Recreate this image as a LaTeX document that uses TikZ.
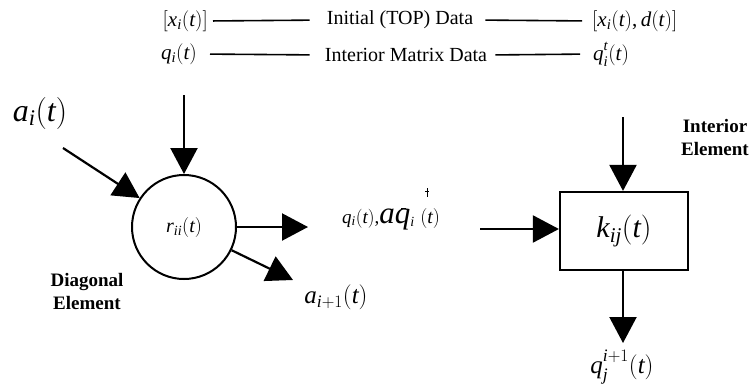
\RequirePackage{fix-cm}
\documentclass[tikz,border=0pt]{standalone}
\usepackage{fontspec}
\setmainfont{Liberation Serif}
\DeclareSymbolFont{tletters}{TU}{\rmdefault}{m}{it}
\DeclareSymbolFont{tupright}{TU}{\rmdefault}{m}{n}
\DeclareMathSymbol{a}{\mathalpha}{tletters}{`a}
\DeclareMathSymbol{d}{\mathalpha}{tletters}{`d}
\DeclareMathSymbol{i}{\mathalpha}{tletters}{`i}
\DeclareMathSymbol{j}{\mathalpha}{tletters}{`j}
\DeclareMathSymbol{k}{\mathalpha}{tletters}{`k}
\DeclareMathSymbol{q}{\mathalpha}{tletters}{`q}
\DeclareMathSymbol{r}{\mathalpha}{tletters}{`r}
\DeclareMathSymbol{t}{\mathalpha}{tletters}{`t}
\DeclareMathSymbol{x}{\mathalpha}{tletters}{`x}
\DeclareMathSymbol{(}{\mathopen}{tupright}{`(}
\DeclareMathSymbol{)}{\mathclose}{tupright}{`)}
\DeclareMathSymbol{[}{\mathopen}{tupright}{`[}
\DeclareMathSymbol{]}{\mathclose}{tupright}{`]}
\DeclareMathSymbol{,}{\mathpunct}{tupright}{`,}
\DeclareMathSymbol{+}{\mathbin}{tupright}{`+}
\DeclareMathSymbol{1}{\mathalpha}{tupright}{`1}
\usetikzlibrary{arrows.meta}
\tikzset{
  lbl/.style={inner sep=0pt, font=\fontsize{20}{22}\selectfont},
  mth/.style={inner sep=0pt, font=\fontsize{21}{23}\selectfont},
  bigm/.style={inner sep=0pt, font=\fontsize{32}{34}\selectfont},
  midm/.style={inner sep=0pt, font=\fontsize{25}{28}\selectfont},
  boldlbl/.style={inner sep=0pt, font=\fontsize{19}{23}\selectfont\bfseries, align=center},
  conn/.style={line width=1.6pt},
  arr/.style={line width=2.2pt, -{Triangle[length=26pt,width=27pt]}},
  speck/.style={line width=0.8pt},
}
\begin{document}
\begin{tikzpicture}[x=1pt,y=-1pt]
\useasboundingbox[fill=white] (0,0) rectangle (755,386);
% top data rows
\node[mth, anchor=east] (lx) at (208,21) {$[x_i(t)]$};
\node[lbl] (init) at (400,20) {Initial (TOP) Data};
\node[mth, anchor=west] (rx) at (592,21) {$[x_i(t), d(t)]$};
\draw[conn, shorten <=5pt, shorten >=17pt] (lx.east) -- (init.west);
\draw[conn, shorten <=12pt, shorten >=10pt] (init.east) -- (rx.west);
\node[mth, anchor=east] (lq) at (197,54) {$q_i(t)$};
\node[lbl] (imd) at (406,55) {Interior Matrix Data};
\node[mth, anchor=west] (rq) at (593,54) {$q_i^{\raisebox{3pt}{$\scriptstyle t$}}(t)$};
\draw[conn, shorten <=13pt, shorten >=15pt] (lq.east) -- (imd.west);
\draw[conn, shorten <=8pt, shorten >=13pt] (imd.east) -- (rq.west);
% diagonal element
\node[circle, draw, line width=2pt, minimum size=104pt, inner sep=0pt,
      font=\fontsize{20}{22}\selectfont] (circ) at (184,227) {$r_{ii}(t)$};
\coordinate (topA) at (184,95);
\coordinate (ain) at (63,148);
\coordinate (cout) at (308,227);
\coordinate (aout) at (293,280);
\node[bigm] (ai) at (40,113) {$a_i(t)$};
\draw[arr] (topA) -- (circ);
\draw[arr] (ain) -- (circ);
\draw[arr] (circ) -- (cout);
\draw[arr] (circ.-26) -- (aout);
\node[boldlbl] (diag) at (87,291) {Diagonal\\Element};
\node[midm] (anext) at (336,297) {$a_{i+1}(t)$};
% middle label
\node[inner sep=0pt, anchor=base west] (mid) at (342,223)
  {{\fontsize{19}{21}\selectfont$q_i(t),$}{\fontsize{31}{33}\selectfont$aq$}{\fontsize{20}{22}\selectfont$_i\;(t)$}};
\draw[speck] (401,208) -- (406,208);
\draw[speck] (427,188) -- (427,197) (425,191) -- (429,191);
% interior element
\node[draw, line width=2.2pt, minimum width=128pt, minimum height=78pt, inner sep=0pt,
      font=\fontsize{30}{32}\selectfont] (box) at (624,231) {$k_{ij}(t)$};
\coordinate (mstart) at (480,229);
\coordinate (topB) at (623,117);
\coordinate (botB) at (623,343);
\draw[arr] (mstart) -- (mstart -| box.west);
\draw[arr] (topB) -- (topB |- box.north);
\draw[arr] (topB |- box.south) -- (botB);
\node[boldlbl] (intl) at (715,137) {Interior\\Element};
\node[midm] (qnext) at (622,367) {$q_j^{\raisebox{3pt}{$\scriptstyle i+1$}}(t)$};
\end{tikzpicture}
\end{document}
